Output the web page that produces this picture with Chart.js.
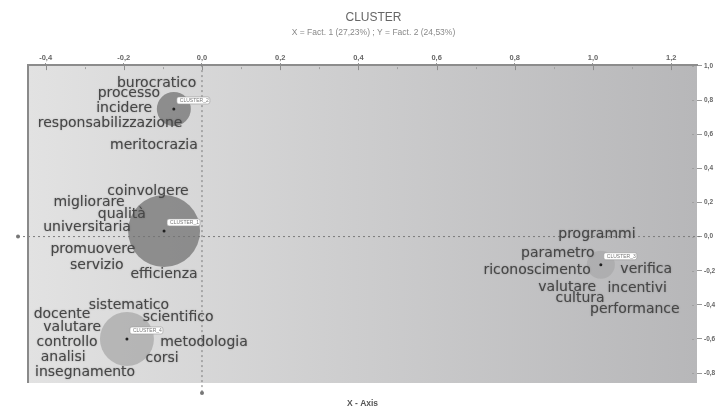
<!DOCTYPE html>
<html>
<head>
<meta charset="utf-8">
<script src="https://cdn.jsdelivr.net/npm/chart.js@4.4.1/dist/chart.umd.min.js"></script>
<style>
    html, body { margin: 0; padding: 0; background: #fff; }
    #wrap { width: 719px; height: 409px; }
</style>
</head>
<body>
<div id="wrap"><canvas id="clusterChart"></canvas></div>
<script>
// tick labels
const xTicks = [-0.4, -0.2, 0, 0.2, 0.4, 0.6, 0.8, 1.0, 1.2];
const yTicks = [1.0, 0.8, 0.6, 0.4, 0.2, 0, -0.2, -0.4, -0.6, -0.8];

// cluster centres and bubble size
const clusterNames = ['CLUSTER_1', 'CLUSTER_2', 'CLUSTER_3', 'CLUSTER_4'];
const clusterX = [-0.097, -0.072, 1.02, -0.192];
const clusterY = [0.033, 0.748, -0.165, -0.60];
const clusterSize = [36, 17, 14, 27];

// words (position on the factor plane)
const words = [
    'burocratico', 'processo', 'incidere', 'responsabilizzazione', 'meritocrazia',
    'coinvolgere', 'migliorare', 'qualità', 'universitaria', 'promuovere', 'servizio', 'efficienza',
    'sistematico', 'docente', 'scientifico', 'valutare', 'controllo', 'metodologia', 'analisi', 'corsi', 'insegnamento',
    'programmi', 'parametro', 'riconoscimento', 'verifica', 'valutare', 'incentivi', 'cultura', 'performance'
];
const wordX = [
    -0.116, -0.187, -0.199, -0.235, -0.123,
    -0.138, -0.289, -0.205, -0.294, -0.279, -0.269, -0.097,
    -0.187, -0.358, -0.061, -0.332, -0.345, 0.005, -0.355, -0.102, -0.299,
    1.010, 0.910, 0.857, 1.136, 0.934, 1.113, 0.967, 1.107
];
const wordY = [
    0.900, 0.841, 0.753, 0.665, 0.536,
    0.267, 0.203, 0.132, 0.056, -0.073, -0.166, -0.219,
    -0.401, -0.454, -0.471, -0.530, -0.618, -0.618, -0.705, -0.711, -0.794,
    0.015, -0.096, -0.196, -0.190, -0.295, -0.301, -0.360, -0.424
];

const fmt = v => Number(v).toFixed(1).replace('.', ',');

// sfondo grigio sfumato dell'area del grafico
const plotBackground = {
    id: 'plotBackground',
    beforeDraw(chart) {
        const { ctx, chartArea: a } = chart;
        const g = ctx.createLinearGradient(a.left, 0, a.right, 0);
        g.addColorStop(0, '#e2e2e2');
        g.addColorStop(1, '#b7b7b9');
        ctx.save();
        ctx.fillStyle = g;
        ctx.fillRect(a.left, a.top, a.right - a.left, a.bottom - a.top);
        ctx.restore();
    },
    beforeDatasetsDraw(chart) {
        // assi dello zero tratteggiati
        const { ctx, chartArea: a, scales } = chart;
        const x0 = scales.x.getPixelForValue(0);
        const y0 = scales.y.getPixelForValue(0);
        ctx.save();
        ctx.strokeStyle = '#7a7a7a';
        ctx.lineWidth = 1;
        ctx.setLineDash([2, 3]);
        ctx.beginPath();
        ctx.moveTo(18, y0); ctx.lineTo(a.right + 4, y0);
        ctx.moveTo(x0, a.top); ctx.lineTo(x0, a.bottom + 10);
        ctx.stroke();
        ctx.setLineDash([]);
        ctx.fillStyle = '#777';
        ctx.beginPath(); ctx.arc(18, y0, 2, 0, Math.PI * 2); ctx.fill();
        ctx.beginPath(); ctx.arc(x0, a.bottom + 10, 2, 0, Math.PI * 2); ctx.fill();
        // bordo sinistro
        ctx.fillStyle = '#8a8a8a';
        ctx.fillRect(a.left - 1, a.top, 2, a.bottom - a.top);
        // tacche interne
        ctx.fillStyle = '#8e8e8e';
        xTicks.forEach(v => {
            ctx.fillRect(Math.round(scales.x.getPixelForValue(v)), a.top, 1, 5);
        });
        ctx.fillStyle = '#a0a0a0';
        for (let v = -0.3; v <= 1.25; v += 0.2) {
            ctx.fillRect(Math.round(scales.x.getPixelForValue(v)), a.top + 2, 1, 2);
        }
        yTicks.forEach(v => {
            ctx.fillRect(a.right - 5, Math.round(scales.y.getPixelForValue(v)), 2, 1);
        });
        ctx.restore();
    },
    afterDatasetsDraw(chart) {
        const { ctx } = chart;
        ctx.save();
        // parole
        const wmeta = chart.getDatasetMeta(2);
        ctx.font = '14px "DejaVu Sans"';
        ctx.fillStyle = '#474747';
        ctx.shadowColor = 'rgba(60,60,60,0.45)';
        ctx.shadowBlur = 1.5;
        ctx.textAlign = 'center';
        ctx.textBaseline = 'middle';
        wmeta.data.forEach((pt, i) => {
            ctx.fillText(words[i], pt.x, pt.y);
        });
        ctx.shadowBlur = 0;
        ctx.shadowColor = 'transparent';
        // etichette dei cluster
        const cmeta = chart.getDatasetMeta(0);
        ctx.font = '5px "Liberation Sans"';
        ctx.textAlign = 'left';
        cmeta.data.forEach((pt, i) => {
            const bx = pt.x + 3, by = pt.y - 12;
            ctx.fillStyle = '#fff';
            ctx.strokeStyle = '#999';
            ctx.lineWidth = 0.6;
            ctx.beginPath();
            ctx.roundRect(bx, by, 33, 7, 2);
            ctx.fill();
            ctx.stroke();
            ctx.fillStyle = '#777';
            ctx.fillText(clusterNames[i], bx + 3, by + 3.7);
        });
        ctx.restore();
    }
};

const ctx = document.getElementById('clusterChart').getContext('2d');
const clusterChart = new Chart(ctx, {
    type: 'bubble',
    data: {
        datasets: [{
            label: 'Cluster',
            data: clusterX.map((x, i) => ({ x: x, y: clusterY[i], r: clusterSize[i] })),
            backgroundColor: [
                'rgba(115, 115, 115, 0.75)',
                'rgba(115, 115, 115, 0.75)',
                'rgba(130, 130, 130, 0.25)',
                'rgba(125, 125, 125, 0.4)'
            ],
            borderWidth: 0,
            order: 2
        }, {
            type: 'scatter',
            label: 'Centri',
            data: clusterX.map((x, i) => ({ x: x, y: clusterY[i] })),
            pointRadius: 1.5,
            pointBackgroundColor: '#222',
            pointBorderWidth: 0,
            order: 0
        }, {
            type: 'scatter',
            label: 'Parole',
            data: wordX.map((x, i) => ({ x: x, y: wordY[i] })),
            pointRadius: 0,
            order: 1
        }]
    },
    options: {
        responsive: true,
        maintainAspectRatio: false,
        animation: false,
        layout: { autoPadding: false, padding: { left: 28, right: 0, top: 0, bottom: 0 } },
        plugins: {
            legend: { display: false },
            tooltip: { enabled: false },
            title: {
                display: true,
                text: 'CLUSTER',
                color: '#666',
                font: { family: 'Liberation Sans', size: 12, weight: 'normal' },
                padding: { top: 10, bottom: 3.5 }
            },
            subtitle: {
                display: true,
                text: 'X = Fact. 1 (27,23%) ; Y = Fact. 2 (24,53%)',
                color: '#888',
                font: { family: 'Liberation Sans', size: 8.5 },
                padding: { top: 0, bottom: 0 }
            }
        },
        scales: {
            x: {
                type: 'linear',
                position: 'top',
                min: -0.445,
                max: 1.266,
                afterBuildTicks: s => { s.ticks = xTicks.map(v => ({ value: v })); },
                afterFit: s => { s.height = 27; },
                ticks: {
                    callback: v => fmt(v),
                    color: '#666',
                    font: { family: 'Liberation Sans', size: 7.5, weight: 'bold' },
                    padding: 1,
                    maxRotation: 0,
                    autoSkip: false
                },
                grid: { drawOnChartArea: false, tickLength: 2, color: '#888' },
                border: { color: '#8c8c8c', width: 2 }
            },
            y: {
                type: 'linear',
                position: 'right',
                min: -0.858,
                max: 1.005,
                afterBuildTicks: s => { s.ticks = yTicks.map(v => ({ value: v })); },
                afterFit: s => { s.width = 22; },
                ticks: {
                    callback: v => fmt(v),
                    color: '#666',
                    font: { family: 'Liberation Sans', size: 6.5, weight: 'bold' },
                    padding: 2,
                    autoSkip: false
                },
                grid: { drawOnChartArea: false, tickLength: 5, color: '#999' },
                border: { display: false }
            },
            x2: {
                type: 'linear',
                position: 'bottom',
                min: -0.445,
                max: 1.266,
                afterFit: s => { s.height = 26; },
                ticks: { display: false },
                grid: { display: false },
                border: { display: false },
                title: {
                    display: true,
                    text: 'X - Axis',
                    color: '#555',
                    font: { family: 'Liberation Sans', size: 8.5, weight: 'bold' },
                    padding: { top: 0, bottom: 0 }
                }
            }
        }
    },
    plugins: [plotBackground]
});
</script>
</body>
</html>
